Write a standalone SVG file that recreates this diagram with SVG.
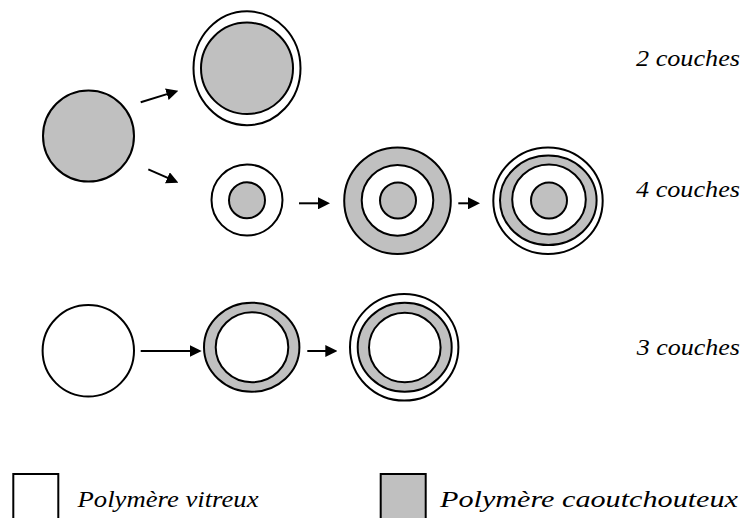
<svg xmlns="http://www.w3.org/2000/svg" width="742" height="518" viewBox="0 0 742 518">
<style>
.g{fill:#c0c0c0;stroke:#000;stroke-width:2}
.w{fill:#fff;stroke:#000;stroke-width:2}
.a{stroke:#000;stroke-width:2;fill:none;marker-end:url(#ah)}
.t{font-family:'Liberation Serif',serif;font-style:italic;font-size:24px;fill:#000}
</style>
<defs>
<marker id="ah" markerUnits="userSpaceOnUse" markerWidth="12" markerHeight="12" refX="1" refY="6" orient="auto" viewBox="0 0 12 12">
<path d="M0,0 L12,6 L0,12 z" fill="#000"/>
</marker>
</defs>
<rect width="742" height="518" fill="#fff"/>
<g id="start-rubber"><circle class="g" cx="88.5" cy="136" r="45.5"/></g>
<g id="two-layers"><ellipse class="w" cx="247" cy="68.2" rx="53.5" ry="57"/><ellipse class="g" cx="247" cy="68.3" rx="46" ry="45.7"/></g>
<g id="four-a"><circle class="w" cx="247" cy="200" r="35.5"/><circle class="g" cx="247" cy="200.3" r="18"/></g>
<g id="four-b"><ellipse class="g" cx="397.5" cy="200.7" rx="53.3" ry="53.3"/><ellipse class="w" cx="397.5" cy="200.3" rx="35.8" ry="35.4"/><circle class="g" cx="398" cy="200.5" r="18"/></g>
<g id="four-c"><ellipse class="w" cx="548" cy="200.7" rx="54.7" ry="53.3"/><ellipse class="g" cx="548.3" cy="200.3" rx="48.3" ry="44.7"/><ellipse class="w" cx="549" cy="199.5" rx="36.8" ry="35"/><circle class="g" cx="549" cy="200.5" r="18"/></g>
<g id="start-glass"><circle class="w" cx="88.3" cy="350.8" r="45.7"/></g>
<g id="three-a"><ellipse class="g" cx="251.7" cy="347.2" rx="47.7" ry="44.5"/><ellipse class="w" cx="252" cy="347.3" rx="36.3" ry="35"/></g>
<g id="three-b"><ellipse class="w" cx="404.2" cy="347.3" rx="54.2" ry="53.3"/><ellipse class="g" cx="404.7" cy="347.2" rx="47" ry="44.5"/><ellipse class="w" cx="404.8" cy="347.5" rx="35.8" ry="34.8"/></g>
<g id="connectors">
<line class="a" x1="140.7" y1="102.3" x2="167.8" y2="93.9"/>
<line class="a" x1="148.3" y1="169.3" x2="168.3" y2="178.2"/>
<line class="a" x1="299" y1="203.3" x2="319" y2="203.3"/>
<line class="a" x1="458.3" y1="203.3" x2="469" y2="203.3"/>
<line class="a" x1="140.7" y1="351" x2="190.7" y2="351"/>
<line class="a" x1="307.3" y1="351" x2="326.3" y2="351"/>
</g>
<g id="labels">
<text class="t" x="636" y="66" textLength="104" lengthAdjust="spacingAndGlyphs">2 couches</text>
<text class="t" x="636" y="197.3" textLength="104" lengthAdjust="spacingAndGlyphs">4 couches</text>
<text class="t" x="636.7" y="355" textLength="103.3" lengthAdjust="spacingAndGlyphs">3 couches</text>
</g>
<g id="legend-glass"><rect class="w" x="13.3" y="474" width="45" height="50"/><text class="t" x="77.5" y="506.7" textLength="181" lengthAdjust="spacingAndGlyphs">Polymère vitreux</text></g>
<g id="legend-rubber"><rect class="g" x="380.7" y="474" width="45" height="50"/><text class="t" x="440" y="506.7" textLength="298" lengthAdjust="spacingAndGlyphs">Polymère caoutchouteux</text></g>
</svg>
